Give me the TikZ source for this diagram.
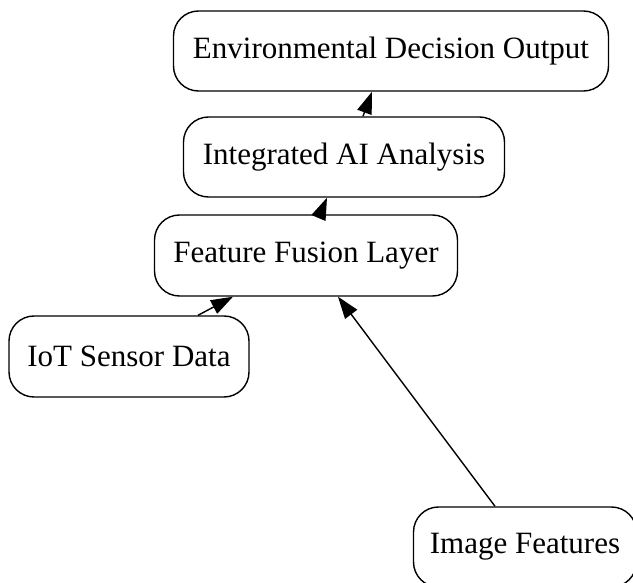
\documentclass[tikz,border=0pt]{standalone}
\usepackage{fontspec}
\setmainfont{Liberation Serif}
\usetikzlibrary{arrows.meta,calc}
\begin{document}
\begin{tikzpicture}[x=1pt,y=-1pt,
  box/.style={draw=black, line width=1.4pt, rounded corners=25pt, inner sep=0pt,
    minimum height=80pt, font=\fontsize{31}{37}\selectfont, fill=white},
  arr/.style={line width=1.4pt, -{Triangle[length=22pt,width=15pt]}}]
\useasboundingbox (0,0) rectangle (633,583);
\clip (0,0) rectangle (633,583);
\fill[white] (0,0) rectangle (633,583);
\node[box, minimum width=435pt] (n1) at (391,51) {Environmental Decision Output};
\node[box, minimum width=321pt] (n2) at (344,157) {Integrated AI Analysis};
\node[box, minimum width=303pt, minimum height=81pt] (n3) at (306,255.5) {Feature Fusion Layer};
\node[box, minimum width=240pt, minimum height=81pt] (n4) at (129,356.5) {IoT Sensor Data};
\node[box, minimum width=223pt] (n5) at (525,547) {Image Features};
\draw[arr] ($(n2.north)+(19,0)$) -- ($(n1.south)+(-19,0)$);
\draw[arr] ($(n3.north)+(14,0)$) -- ($(n2.south)+(-17,0)$);
\draw[arr] ($(n4.north)+(69,0)$) -- ($(n3.south)+(-73,0)$);
\draw[arr] ($(n5.north)+(-30,0)$) -- ($(n3.south)+(32,0)$);
\end{tikzpicture}
\end{document}
